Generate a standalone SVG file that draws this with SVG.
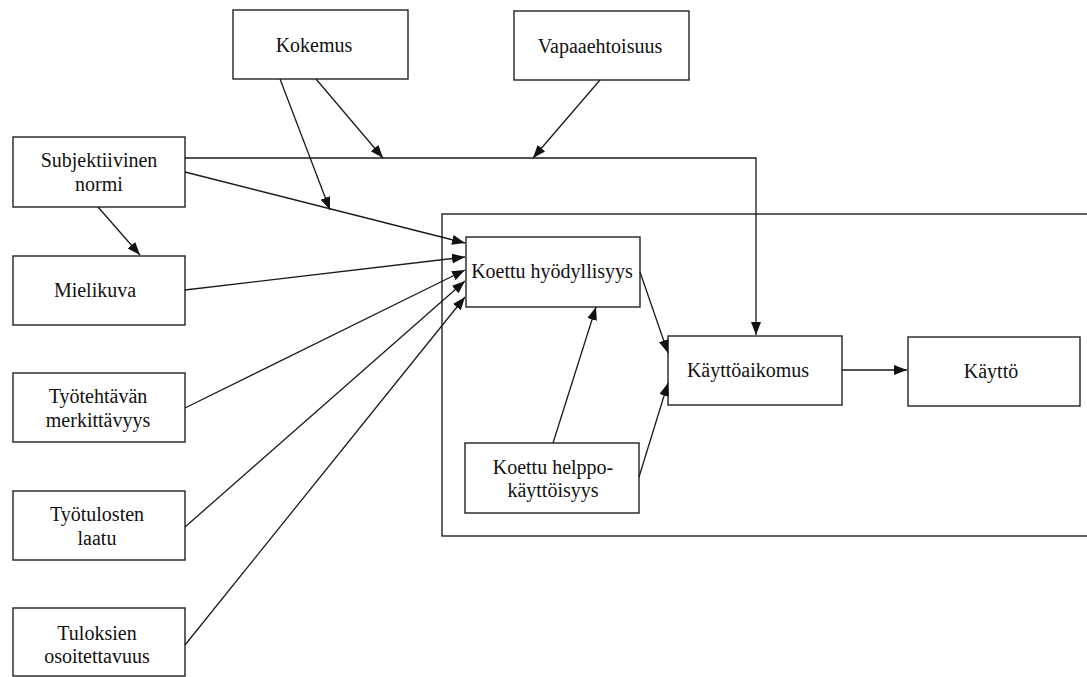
<svg xmlns="http://www.w3.org/2000/svg" width="1087" height="677" viewBox="0 0 1087 677">
<style>
.box{fill:#fff;stroke:#222;stroke-width:1.4}
.frame{fill:none;stroke:#222;stroke-width:1.4}
.t{font-family:"Liberation Serif","Times New Roman",serif;font-size:20px;fill:#111;text-anchor:middle}
.c{fill:none;stroke:#1a1a1a;stroke-width:1.3}
</style>
<defs>
<marker id="ah" markerWidth="14" markerHeight="11" refX="13" refY="5" orient="auto" markerUnits="userSpaceOnUse">
<path d="M0,0 L13,5 L0,10 z" fill="#111"/>
</marker>
</defs>
<rect class="frame" x="442" y="214" width="660" height="322"/>
<g id="kokemus"><rect class="box" x="233" y="10" width="175" height="69"/><text class="t" x="314" y="52">Kokemus</text></g>
<g id="vapaaehtoisuus"><rect class="box" x="514" y="11" width="175" height="69"/><text class="t" x="600" y="53">Vapaaehtoisuus</text></g>
<g id="subjektiivinen"><rect class="box" x="13" y="137" width="172" height="70"/><text class="t" x="99" y="167">Subjektiivinen</text><text class="t" x="99" y="191">normi</text></g>
<g id="mielikuva"><rect class="box" x="13" y="256" width="172" height="69"/><text class="t" x="95" y="297">Mielikuva</text></g>
<g id="tyotehtavan"><rect class="box" x="13" y="373" width="172" height="69"/><text class="t" x="98" y="403">Työtehtävän</text><text class="t" x="98" y="427">merkittävyys</text></g>
<g id="tyotulosten"><rect class="box" x="13" y="491" width="172" height="69"/><text class="t" x="97" y="521">Työtulosten</text><text class="t" x="97" y="545">laatu</text></g>
<g id="tuloksien"><rect class="box" x="13" y="608" width="172" height="68"/><text class="t" x="97" y="640">Tuloksien</text><text class="t" x="97" y="663">osoitettavuus</text></g>
<g id="hyodyllisyys"><rect class="box" x="466" y="237" width="174" height="70"/><text class="t" x="552" y="278">Koettu hyödyllisyys</text></g>
<g id="helppokayttoisyys"><rect class="box" x="465" y="443" width="174" height="70"/><text class="t" x="553" y="474">Koettu helppo-</text><text class="t" x="553" y="497">käyttöisyys</text></g>
<g id="kayttoaikomus"><rect class="box" x="668" y="336" width="174" height="69"/><text class="t" x="748" y="377">Käyttöaikomus</text></g>
<g id="kaytto"><rect class="box" x="908" y="337" width="172" height="69"/><text class="t" x="991" y="378">Käyttö</text></g>
<g id="connectors">
<path class="c" d="M185,158 L756,158 L756,335" marker-end="url(#ah)"/>
<line class="c" x1="316" y1="79" x2="383" y2="158" marker-end="url(#ah)"/>
<line class="c" x1="280" y1="79" x2="330" y2="210" marker-end="url(#ah)"/>
<line class="c" x1="600" y1="80" x2="533" y2="158" marker-end="url(#ah)"/>
<line class="c" x1="185" y1="172" x2="465" y2="243" marker-end="url(#ah)"/>
<line class="c" x1="98" y1="207" x2="140" y2="255" marker-end="url(#ah)"/>
<line class="c" x1="185" y1="290" x2="465" y2="257" marker-end="url(#ah)"/>
<line class="c" x1="185" y1="408" x2="465" y2="270" marker-end="url(#ah)"/>
<line class="c" x1="185" y1="527" x2="465" y2="281" marker-end="url(#ah)"/>
<line class="c" x1="185" y1="645" x2="465" y2="297" marker-end="url(#ah)"/>
<line class="c" x1="640" y1="272" x2="668" y2="353" marker-end="url(#ah)"/>
<line class="c" x1="639" y1="477" x2="668" y2="383" marker-end="url(#ah)"/>
<line class="c" x1="553" y1="443" x2="596" y2="307" marker-end="url(#ah)"/>
<line class="c" x1="842" y1="370" x2="907" y2="370" marker-end="url(#ah)"/>
</g>
</svg>
